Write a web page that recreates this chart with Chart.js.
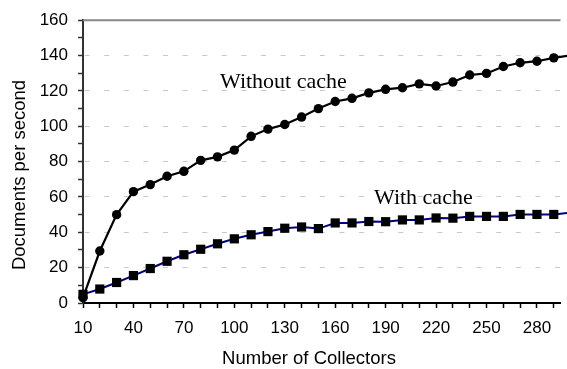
<!DOCTYPE html>
<html>
<head>
<meta charset="utf-8">
<script src="https://cdn.jsdelivr.net/npm/chart.js@4.4.1/dist/chart.umd.min.js"></script>
<style>
  html, body { margin: 0; padding: 0; background: #fff; overflow: hidden; }
  #wrap { width: 567px; height: 369px; position: relative; }
</style>
</head>
<body>
<div id="wrap"><canvas id="chart"></canvas></div>
<script>
// --- data ---
const collectors = [10, 20, 30, 40, 50, 60, 70, 80, 90, 100, 110, 120, 130, 140, 150,
                    160, 170, 180, 190, 200, 210, 220, 230, 240, 250, 260, 270, 280, 290, 300];
const withoutCache = [3, 29.4, 50, 63, 67, 71.7, 74.5, 80.7, 82.7, 86.5, 94.3, 98.4, 101, 105.2, 110,
                      114, 115.8, 118.9, 120.9, 121.8, 124, 122.8, 125, 129, 129.9, 133.8, 135.9, 136.8, 138.7, 140.2];
const withCache = [4.9, 7.9, 11.6, 15.5, 19.5, 23.6, 27.3, 30.4, 33.5, 36.3, 38.6, 40.4, 42.3, 43, 42.1,
                   45.3, 45.3, 46.1, 46, 47, 47, 48.1, 48, 49, 49, 49, 50.1, 50.1, 50.1, 51.2];
const xTickLabels = [10, 40, 70, 100, 130, 160, 190, 220, 250, 280];
const yTickLabels = [0, 20, 40, 60, 80, 100, 120, 140, 160];

const sansFont = '"Liberation Sans", Arial, sans-serif';
const serifFont = '"Liberation Serif", "Times New Roman", serif';

// top frame line, axis titles and series captions
const captionPlugin = {
    id: 'captions',
    beforeDatasetsDraw(chart) {
        const ctx = chart.ctx;
        const yTop = chart.scales.y.getPixelForValue(160);
        ctx.save();
        ctx.strokeStyle = '#888';
        ctx.lineWidth = 2;
        ctx.beginPath();
        ctx.moveTo(chart.chartArea.left, yTop);
        ctx.lineTo(chart.chartArea.right, yTop);
        ctx.stroke();
        ctx.restore();
    },
    afterDraw(chart) {
        const ctx = chart.ctx;
        ctx.save();
        ctx.fillStyle = '#000';
        ctx.textBaseline = 'middle';
        ctx.textAlign = 'center';
        ctx.font = '18.5px ' + sansFont;
        ctx.fillText('Number of Collectors', 309, 359);
        ctx.translate(20, 175);
        ctx.rotate(-Math.PI / 2);
        ctx.fillText('Documents per second', 0, 0);
        ctx.restore();

        ctx.save();
        ctx.fillStyle = '#000';
        ctx.textBaseline = 'alphabetic';
        ctx.textAlign = 'left';
        ctx.font = '22px ' + serifFont;
        ctx.fillText('Without cache', 220, 88);
        ctx.fillText('With cache', 374, 204);
        ctx.restore();
    }
};

const chart = new Chart(document.getElementById('chart'), {
    type: 'line',
    data: {
        datasets: [
            {
                label: 'Without cache',
                data: collectors.map((c, i) => ({ x: c, y: withoutCache[i] })),
                borderColor: '#000',
                borderWidth: 2.2,
                pointStyle: 'circle',
                pointRadius: 4.7,
                pointBackgroundColor: '#000',
                pointBorderColor: '#000',
                pointBorderWidth: 0,
                tension: 0,
                clip: false
            },
            {
                label: 'With cache',
                data: collectors.map((c, i) => ({ x: c, y: withCache[i] })),
                borderColor: '#000080',
                borderWidth: 2,
                pointStyle: 'rect',
                pointRadius: 6.5,
                pointBackgroundColor: '#000',
                pointBorderColor: '#000',
                pointBorderWidth: 0,
                tension: 0,
                clip: false
            }
        ]
    },
    options: {
        responsive: true,
        maintainAspectRatio: false,
        animation: false,
        events: [],
        layout: { padding: { top: 18, right: 0, left: 0, bottom: 0 } },
        plugins: {
            legend: { display: false },
            tooltip: { enabled: false }
        },
        scales: {
            x: {
                type: 'linear',
                min: 10,
                max: 294,
                afterBuildTicks: (scale) => {
                    scale.ticks = collectors.filter(v => v <= 290).map(v => ({ value: v }));
                },
                afterFit: (scale) => { scale.height = 66; },
                ticks: {
                    autoSkip: false,
                    maxRotation: 0,
                    padding: 10,
                    color: '#000',
                    font: { family: sansFont, size: 17 },
                    callback: (v) => xTickLabels.includes(v) ? String(v) : ''
                },
                grid: {
                    drawOnChartArea: false,
                    drawTicks: true,
                    tickLength: 5,
                    tickColor: '#000',
                    tickWidth: 1.5
                },
                border: { display: true, color: '#000', width: 2 }
            },
            y: {
                min: 0,
                max: 160,
                afterBuildTicks: (scale) => {
                    const t = [];
                    for (let v = 0; v <= 160; v += 10) t.push({ value: v });
                    scale.ticks = t;
                },
                afterFit: (scale) => { scale.width = 83; },
                ticks: {
                    autoSkip: false,
                    padding: 10,
                    color: '#000',
                    font: { family: sansFont, size: 17 },
                    callback: (v) => yTickLabels.includes(v) ? String(v) : ''
                },
                grid: {
                    drawTicks: true,
                    tickLength: 5,
                    tickColor: '#333',
                    tickWidth: 1.5,
                    lineWidth: 1,
                    color: (c) => {
                        if (!c.tick) return 'rgba(0,0,0,0)';
                        const v = c.tick.value;
                        if (v === 0 || v === 160 || v % 20 !== 0) return 'rgba(0,0,0,0)';
                        return '#c8c8c8';
                    }
                },
                border: {
                    display: true,
                    color: '#333',
                    width: 2,
                    dash: [5, 14.6],
                    dashOffset: -0.6
                }
            }
        }
    },
    plugins: [captionPlugin]
});
</script>
</body>
</html>
